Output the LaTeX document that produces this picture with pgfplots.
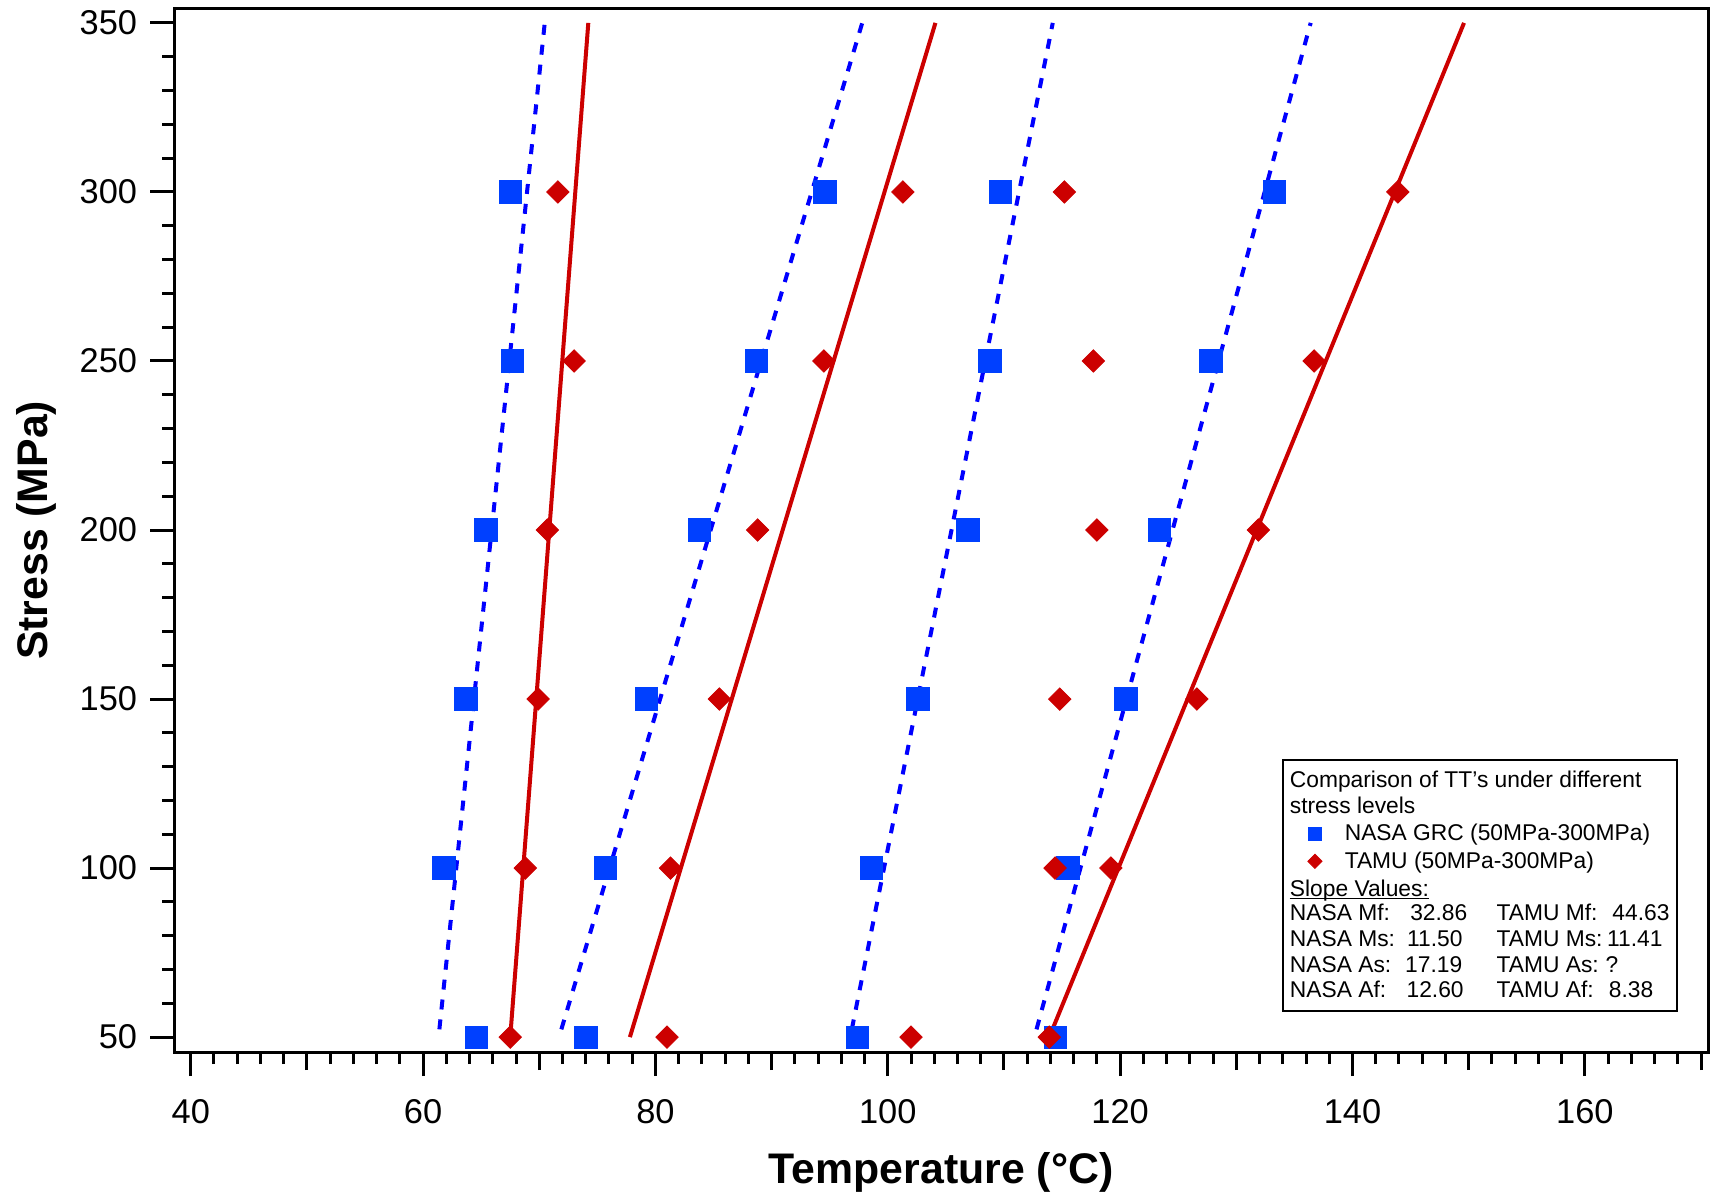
\documentclass[border=0pt]{standalone}
\usepackage{pgfplots}
\pgfplotsset{compat=1.18}
\usepackage{fontspec}
\setmainfont{Liberation Sans}
\definecolor{nasablue}{RGB}{0,64,255}
\definecolor{dashblue}{RGB}{0,0,255}
\definecolor{tamured}{RGB}{204,0,0}
\newcommand\legfont{\fontsize{11.4}{13.6}\selectfont}
\begin{document}
\begin{tikzpicture}
\useasboundingbox (-87.25pt,-69.5pt) rectangle (767.75pt,526pt);
\begin{pgfinterruptboundingbox}
\begin{axis}[
  scale only axis,
  width=766.75pt, height=521.65pt,
  xmin=38.6, xmax=170.6, ymin=45.6, ymax=354.2,
  xtick={40,60,...,160}, ytick={50,100,...,350},
  minor xtick={42,44,...,170}, minor ytick={60,70,...,340},
  extra x ticks={50,70,...,170}, extra x tick labels={},
  extra x tick style={major tick length=9pt},
  tick align=outside, xtick pos=lower, ytick pos=left,
  major tick length=12pt, minor tick length=6pt,
  axis line style={line width=1.5pt},
  tick style={black, line width=1.5pt},
  /pgf/number format/assume math mode=true,
  ticklabel style={font=\fontsize{17.2}{20}\selectfont},
  yticklabel style={anchor=east, inner sep=0pt, xshift=-6.5pt},
  xticklabel style={anchor=north, inner sep=0pt, yshift=-11.5pt},
  xlabel={Temperature (°C)},
  ylabel={Stress (MPa)},
  xlabel style={font=\fontsize{21.4}{24}\selectfont\bfseries, inner sep=0pt, at={(axis description cs:0.5,-0.1265)}, anchor=base},
  ylabel style={font=\fontsize{21.4}{24}\selectfont\bfseries, inner sep=0pt, at={(axis description cs:-0.0828,0.5)}, anchor=base},
  legend style={at={(rel axis cs:0.7388,0.2189)}, anchor=north west, draw=none, fill=none, inner sep=0pt, row sep=4pt, column sep=11.4pt, font=\legfont, nodes={inner sep=0pt}},
  legend cell align=left,
  legend image code/.code={\draw[#1] plot coordinates {(0pt,0pt)};},
]
% regression lines NASA (dashed)
\addplot[dashblue, line width=2pt, dash pattern=on 5pt off 5pt, forget plot] coordinates {(61.4,52.3) (70.47,350)};
\addplot[dashblue, line width=2pt, dash pattern=on 5pt off 5pt, forget plot] coordinates {(71.9,52.3) (97.8,350)};
\addplot[dashblue, line width=2pt, dash pattern=on 5pt off 5pt, forget plot] coordinates {(96.9,52.3) (114.2,350)};
\addplot[dashblue, line width=2pt, dash pattern=on 5pt off 5pt, forget plot] coordinates {(112.8,52.3) (136.4,350)};
% regression lines TAMU (solid)
\addplot[tamured, line width=2pt, forget plot] coordinates {(67.5,50) (74.22,350)};
\addplot[tamured, line width=2pt, forget plot] coordinates {(77.8,50) (104.1,350)};
\addplot[tamured, line width=2pt, forget plot] coordinates {(113.9,50) (149.6,350)};
% NASA GRC data
\addplot[only marks, mark=square*, mark size=5.6pt, color=nasablue, forget plot] table {
x y
67.5 300
94.6 300
109.7 300
133.3 300
67.7 250
88.7 250
108.8 250
127.8 250
65.4 200
83.8 200
106.9 200
123.4 200
63.7 150
79.2 150
102.6 150
120.5 150
61.8 100
75.7 100
98.6 100
115.5 100
64.6 50
74.0 50
97.4 50
114.4 50
};
% TAMU data
\addplot[only marks, mark=square*, mark size=3.96pt, mark options={rotate=45}, color=tamured, forget plot] table {
x y
71.6 300
101.3 300
115.2 300
143.9 300
73.0 250
94.5 250
117.7 250
136.7 250
70.7 200
88.8 200
118.0 200
131.9 200
69.9 150
85.5 150
114.8 150
126.6 150
68.8 100
81.3 100
114.4 100
119.2 100
67.5 50
81.0 50
102.0 50
113.9 50
};
\addlegendimage{only marks, mark=square*, mark size=3.3pt, color=nasablue}
\addlegendentry{NASA GRC (50MPa-300MPa)}
\addlegendimage{only marks, mark=square*, mark size=2.5pt, mark options={rotate=45}, color=tamured}
\addlegendentry{TAMU (50MPa-300MPa)}
% legend box and texts
\draw[line width=1pt] (rel axis cs:0.7226,0.0393) rectangle (rel axis cs:0.98,0.2797);
\begin{scope}[every node/.style={anchor=base west, inner sep=0pt, font=\legfont}]
\node at (rel axis cs:0.7271,0.2537) {Comparison of TT's under different};
\node at (rel axis cs:0.7271,0.2288) {stress levels};
\node (sv) at (rel axis cs:0.7271,0.1489) {Slope Values:};
\node at (rel axis cs:0.7271,0.1259) {NASA Mf:};
\node at (rel axis cs:0.7271,0.1009) {NASA Ms:};
\node at (rel axis cs:0.7271,0.0760) {NASA As:};
\node at (rel axis cs:0.7271,0.0524) {NASA Af:};
\node at (rel axis cs:0.8056,0.1259) {32.86};
\node at (rel axis cs:0.8036,0.1009) {11.50};
\node at (rel axis cs:0.8023,0.0760) {17.19};
\node at (rel axis cs:0.8032,0.0524) {12.60};
\node at (rel axis cs:0.8619,0.1259) {TAMU Mf:};
\node at (rel axis cs:0.8619,0.1009) {TAMU Ms:};
\node at (rel axis cs:0.8619,0.0760) {TAMU As:};
\node at (rel axis cs:0.8619,0.0524) {TAMU Af:};
\node at (rel axis cs:0.9374,0.1259) {44.63};
\node at (rel axis cs:0.9340,0.1009) {11.41};
\node at (rel axis cs:0.9329,0.0760) {?};
\node at (rel axis cs:0.9351,0.0524) {8.38};
\end{scope}
\draw[line width=0.65pt] ([yshift=-1pt]sv.base west) -- ([yshift=-1pt]sv.base east);
\end{axis}
\end{pgfinterruptboundingbox}
\end{tikzpicture}
\end{document}
